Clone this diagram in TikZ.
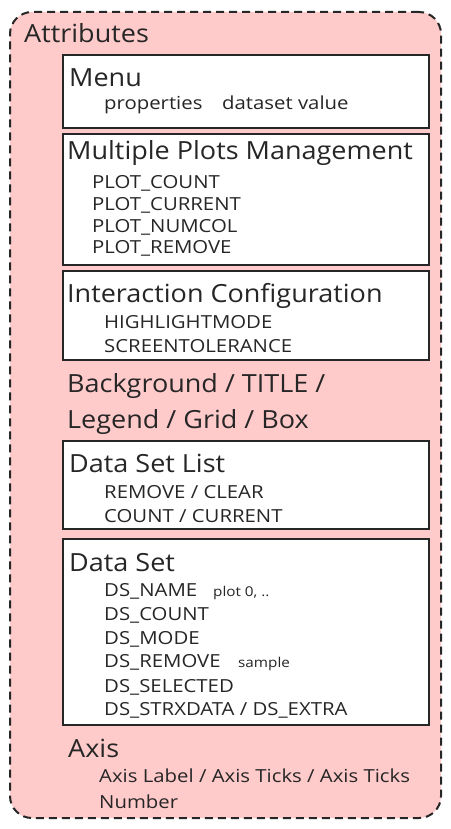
\documentclass[tikz,border=0pt]{standalone}
\usepackage{fontspec}
\setmainfont{Open Sans}
\newfontfamily\headfont[FakeStretch=1.08]{Open Sans}
\newfontfamily\itemfont[FakeStretch=1.13]{Open Sans}
\definecolor{pinkfill}{RGB}{255,202,202}
\definecolor{txt}{RGB}{38,38,38}
\begin{document}
\begin{tikzpicture}[x=1pt,y=-1pt,
  outerbox/.style={draw=txt, line width=2pt, dash pattern=on 8pt off 5pt, fill=pinkfill, rounded corners=22pt, inner sep=0pt},
  panel/.style={draw=txt, line width=1.6pt, fill=white, inner sep=0pt},
  head/.style={anchor=base west, inner sep=0pt, text=txt, font=\headfont\fontsize{25}{28}\selectfont},
  item/.style={anchor=base west, inner sep=0pt, text=txt, font=\itemfont\fontsize{18}{21}\selectfont},
  note/.style={anchor=base west, inner sep=0pt, text=txt, font=\itemfont\fontsize{13.5}{16}\selectfont}]
\useasboundingbox (0,0) rectangle (450,829);
\node[outerbox, minimum width=431pt, minimum height=806pt] (outer) at (225.5,415) {};
\node[head] (attr) at (24,43) {Attributes};
% Menu
\node[panel, minimum width=366pt, minimum height=73pt] (menu) at (246,91.5) {};
\node[head] (menut) at (69,87) {Menu};
\node[item] (prop) at (104,110) {properties};
\node[item] (dsv) at (222,110) {dataset value};
% Multiple plots
\node[panel, minimum width=366pt, minimum height=131pt] (mpm) at (246,199.5) {};
\node[head] (mpmt) at (67,160) {Multiple Plots Management};
\node[item] (pc) at (92,189) {PLOT\_COUNT};
\node[item] (pcur) at (92,210) {PLOT\_CURRENT};
\node[item] (pnc) at (92,232) {PLOT\_NUMCOL};
\node[item] (prm) at (92,253) {PLOT\_REMOVE};
% Interaction
\node[panel, minimum width=366pt, minimum height=89pt] (ic) at (246,315.5) {};
\node[head] (ict) at (67,302) {Interaction Configuration};
\node[item] (hm) at (104,328) {HIGHLIGHTMODE};
\node[item] (st) at (104,352) {SCREENTOLERANCE};
% Background
\node[head] (bg1) at (67,392) {Background / TITLE /};
\node[head] (bg2) at (67,428) {Legend / Grid / Box};
% Data set list
\node[panel, minimum width=366pt, minimum height=88pt] (dsl) at (246,485) {};
\node[head] (dslt) at (69,472) {Data Set List};
\node[item] (rc) at (104,498) {REMOVE / CLEAR};
\node[item] (cc) at (104,522) {COUNT / CURRENT};
% Data set
\node[panel, minimum width=366pt, minimum height=186pt] (ds) at (246,632) {};
\node[head] (dst) at (69,571) {Data Set};
\node[item] (dsn) at (104,596) {DS\_NAME};
\node[note] (dsnn) at (213,596) {plot 0, ..};
\node[item] (dsc) at (104,620) {DS\_COUNT};
\node[item] (dsm) at (104,644) {DS\_MODE};
\node[item] (dsr) at (104,667) {DS\_REMOVE};
\node[note] (dsrn) at (238,667) {sample};
\node[item] (dss) at (104,692) {DS\_SELECTED};
\node[item] (dsx) at (104,715) {DS\_STRXDATA / DS\_EXTRA};
% Axis
\node[head] (axis) at (68,757) {Axis};
\node[item] (ax1) at (99,782) {Axis Label / Axis Ticks / Axis Ticks};
\node[item] (ax2) at (99,808) {Number};
\end{tikzpicture}
\end{document}
